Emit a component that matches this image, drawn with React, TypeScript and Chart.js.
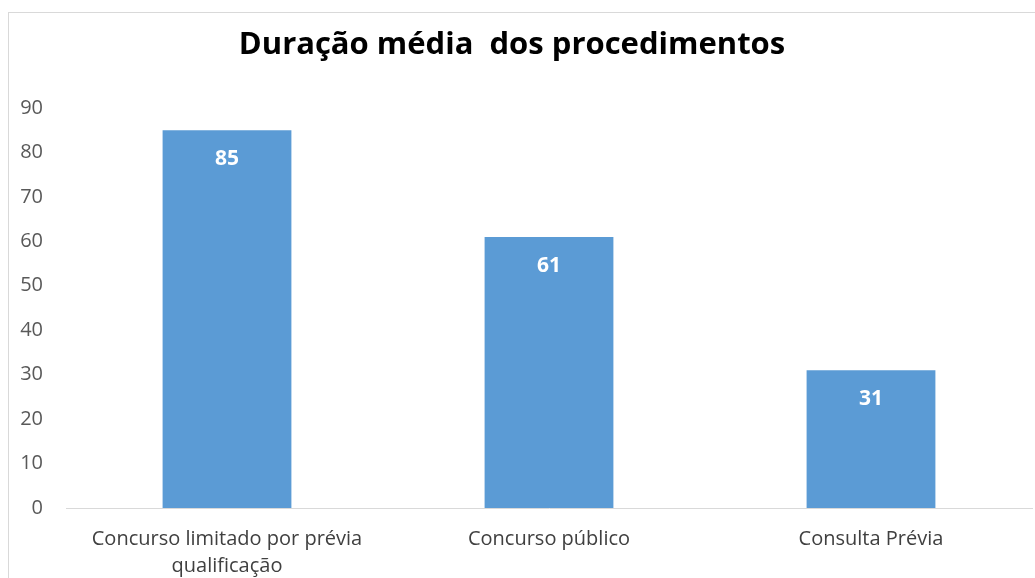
import React, { useEffect, useRef } from "react";
import { Chart, registerables } from "chart.js";

Chart.register(...registerables);

const titleText = "Duração média  dos procedimentos";
const categories: (string | string[])[] = [
  ["Concurso limitado por prévia", "qualificação"],
  "Concurso público",
  "Consulta Prévia",
];
const durations = [85, 61, 31];
const yMin = 0;
const yMax = 90;
const yStep = 10;

const FONT = "'Open Sans', 'DejaVu Sans', sans-serif";

const titlePlugin = {
  id: "customTitle",
  afterDraw(chart: any) {
    const ctx = chart.ctx;
    ctx.save();
    ctx.font = `bold 31px ${FONT}`;
    ctx.fillStyle = "#000000";
    ctx.textAlign = "center";
    ctx.textBaseline = "middle";
    ctx.fillText(titleText, 502, 32);
    ctx.restore();
  },
};

const valueLabelPlugin = {
  id: "valueLabels",
  afterDatasetsDraw(chart: any) {
    const ctx = chart.ctx;
    const meta = chart.getDatasetMeta(0);
    const data = chart.data.datasets[0].data;
    ctx.save();
    ctx.font = `bold 21px ${FONT}`;
    ctx.fillStyle = "#ffffff";
    ctx.textAlign = "center";
    ctx.textBaseline = "middle";
    meta.data.forEach((bar: any, i: number) => {
      ctx.fillText(String(data[i]), bar.x, bar.y + 29);
    });
    ctx.restore();
  },
};

export default function App() {
  const canvasRef = useRef<HTMLCanvasElement | null>(null);

  useEffect(() => {
    if (!canvasRef.current) return;
    const chart = new Chart(canvasRef.current, {
      type: "bar",
      data: {
        labels: categories,
        datasets: [
          {
            data: durations,
            backgroundColor: "#5B9BD5",
            categoryPercentage: 1,
            barPercentage: 0.4,
          },
        ],
      },
      options: {
        animation: false,
        responsive: false,
        maintainAspectRatio: false,
        layout: { padding: { top: 95, left: 0, right: 18, bottom: 0 } },
        plugins: {
          legend: { display: false },
          title: { display: false },
          tooltip: { enabled: false },
        },
        scales: {
          x: {
            grid: { display: false, drawTicks: false },
            border: { display: true, color: "#d9d9d9", width: 1 },
            ticks: {
              color: "#404040",
              font: { family: FONT, size: 20, lineHeight: 1.35 },
              padding: 18,
              maxRotation: 0,
              autoSkip: false,
            },
            afterFit: (s: any) => {
              s.height = 105;
            },
          },
          y: {
            min: yMin,
            max: yMax,
            grid: { display: false, drawTicks: false },
            border: { display: false },
            ticks: {
              stepSize: yStep,
              color: "#595959",
              font: { family: FONT, size: 20 },
              padding: 23,
            },
            afterFit: (s: any) => {
              s.width = 56;
            },
          },
        },
      },
      plugins: [titlePlugin, valueLabelPlugin],
    });
    return () => chart.destroy();
  }, []);

  return (
    <div
      style={{
        position: "fixed",
        left: 0,
        top: 0,
        width: 1035,
        height: 578,
        overflow: "hidden",
        background: "#ffffff",
      }}
    >
      <div
        style={{
          position: "absolute",
          left: 8,
          top: 12,
          width: 1100,
          height: 700,
          border: "1px solid #d9d9d9",
        }}
      />
      <canvas
        ref={canvasRef}
        width={1040}
        height={600}
        style={{ position: "absolute", left: 10, top: 13, width: 1040, height: 600 }}
      />
    </div>
  );
}
